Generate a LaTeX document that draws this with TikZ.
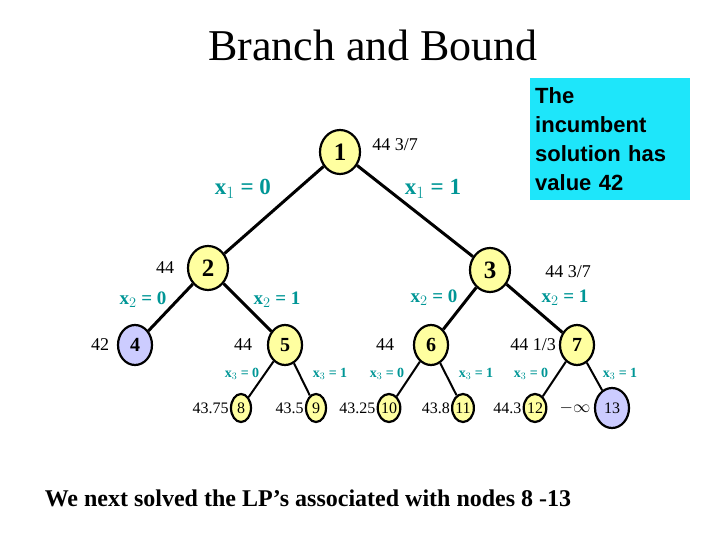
\documentclass[tikz,border=0pt]{standalone}
\usepackage{fontspec}
\setmainfont{Liberation Serif}
\newfontfamily\sansf{Liberation Sans}
\usetikzlibrary{shapes.geometric}
\definecolor{ny}{RGB}{255,255,160}
\definecolor{nb}{RGB}{204,204,255}
\definecolor{tl}{RGB}{0,150,150}
\definecolor{bx}{RGB}{30,230,250}
\begin{document}
\begin{tikzpicture}[x=1pt,y=-1pt,
 nd/.style={ellipse,draw,line width=2.2pt,fill=ny,inner sep=0pt},
 big/.style={nd,minimum width=40pt,minimum height=44pt,font=\fontsize{25}{25}\selectfont\bfseries},
 mid/.style={nd,minimum width=34pt,minimum height=40pt,font=\fontsize{20}{20}\selectfont\bfseries},
 sm/.style={nd,minimum width=20pt,minimum height=28pt,font=\fontsize{16}{16}\selectfont},
 ed/.style={line width=3pt},
 ed2/.style={line width=2pt},
 lb/.style={text=tl,font=\fontsize{23}{23}\selectfont\bfseries},
 lb2/.style={text=tl,font=\fontsize{19}{19}\selectfont\bfseries},
 lb3/.style={text=tl,font=\fontsize{14}{14}\selectfont\bfseries},
 vl/.style={font=\fontsize{18}{18}\selectfont},
 vs/.style={font=\fontsize{16}{16}\selectfont,inner sep=1pt}]
\useasboundingbox (0,0) rectangle (720,540);
\node (title) at (373,45) {\fontsize{44}{44}\selectfont Branch and Bound};
\node (n1) [big] at (340,152) {1};
\node (n2) [big] at (208,268) {2};
\node (n3) [big] at (490,270) {3};
\node (n4) [mid,fill=nb] at (135,345) {4};
\node (n5) [mid] at (285,345) {5};
\node (n6) [mid] at (431,345) {6};
\node (n7) [mid] at (577,345) {7};
\node (n8) [sm] at (241,408) {8};
\node (n9) [sm] at (316,408) {9};
\node (n10) [sm] at (389,408) {10};
\node (n11) [sm] at (463,408) {11};
\node (n12) [sm] at (535,408) {12};
\node (n13) [mid,fill=nb,font=\fontsize{16}{16}\selectfont] at (612,408) {13};
\draw[ed] (n1) -- (n2); \draw[ed] (n1) -- (n3);
\draw[ed] (n2) -- (n4); \draw[ed] (n2) -- (n5);
\draw[ed] (n3) -- (n6); \draw[ed] (n3) -- (n7);
\draw[ed2] (n5) -- (n8); \draw[ed2] (n5) -- (n9);
\draw[ed2] (n6) -- (n10); \draw[ed2] (n6) -- (n11);
\draw[ed2] (n7) -- (n12); \draw[ed2] (n7) -- (n13);
\node (v1) [vl] at (395,145) {44 3/7};
\node (e1) [lb] at (243,189) {x$_1$ = 0};
\node (e2) [lb] at (433,189) {x$_1$ = 1};
\node (v2) [vl] at (165,268) {44};
\node (v3) [vl] at (568,272) {44 3/7};
\node (e3) [lb2] at (143,300) {x$_2$ = 0};
\node (e4) [lb2] at (277,300) {x$_2$ = 1};
\node (e5) [lb2] at (434,298) {x$_2$ = 0};
\node (e6) [lb2] at (565,298) {x$_2$ = 1};
\node (v4) [vl] at (100,345) {42};
\node (v5) [vl] at (243,345) {44};
\node (v6) [vl] at (385,345) {44};
\node (v7) [vl] at (533,345) {44 1/3};
\node (e7) [lb3] at (242,374) {x$_3$ = 0};
\node (e8) [lb3] at (330,374) {x$_3$ = 1};
\node (e9) [lb3] at (387,374) {x$_3$ = 0};
\node (e10) [lb3] at (476,374) {x$_3$ = 1};
\node (e11) [lb3] at (531,374) {x$_3$ = 0};
\node (e12) [lb3] at (620,374) {x$_3$ = 1};
\node (v8) [vs,anchor=east] at (n8.west) {43.75};
\node (v9) [vs,anchor=east] at (n9.west) {43.5};
\node (v10) [vs,anchor=east] at (n10.west) {43.25};
\node (v11) [vs,anchor=east] at (n11.west) {43.8};
\node (v12) [vs,anchor=east] at (n12.west) {44.3};
\node (v13) [vs] at (575,408) {$-\infty$};
\node (box) [fill=bx,minimum width=160pt,minimum height=122pt,anchor=north west,text width=150pt,align=left,inner sep=5pt,font=\sansf\fontsize{22}{29}\selectfont\bfseries] at (530,78) {The\\incumbent\\solution has\\value 42};
\node (bot) at (308,498) {\fontsize{24}{24}\selectfont\bfseries We next solved the LP’s associated with nodes 8 -13};
\end{tikzpicture}
\end{document}
